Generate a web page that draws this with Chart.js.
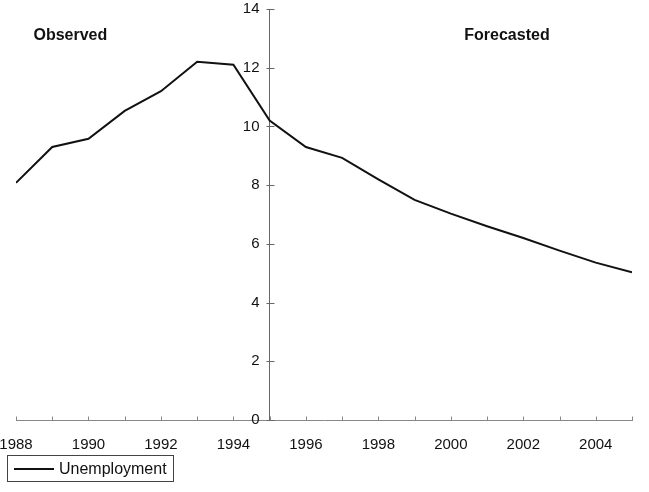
<!DOCTYPE html>
<html>
<head>
<meta charset="utf-8">
<script src="https://cdn.jsdelivr.net/npm/chart.js@4.4.1/dist/chart.umd.min.js"></script>
<style>
  html, body { margin: 0; padding: 0; background: #fff; }
  #wrap { position: relative; width: 649px; height: 492px; }
  #legend {
    position: absolute; left: 7px; top: 455px; width: 165px; height: 25px;
    border: 1px solid #444; font-family: "Liberation Sans", Arial, sans-serif;
    font-size: 16px; color: #111; display: flex; align-items: center;
  }
  #legend .swatch { display: inline-block; width: 40px; height: 0; border-top: 2px solid #111; margin-left: 6px; margin-right: 5px; }
</style>
</head>
<body>
<div id="wrap">
  <canvas id="grafica" width="649" height="492"></canvas>
  <div id="legend"><span class="swatch"></span><span>Unemployment</span></div>
</div>
<script>
// datos
const years = [1988, 1989, 1990, 1991, 1992, 1993, 1994, 1995, 1996, 1997,
               1998, 1999, 2000, 2001, 2002, 2003, 2004, 2005];
const unemployment = [8.08, 9.3, 9.58, 10.53, 11.2, 12.2, 12.1, 10.2, 9.3, 8.93,
                      8.2, 7.5, 7.03, 6.6, 6.2, 5.77, 5.36, 5.03];
const yTicks = [0, 2, 4, 6, 8, 10, 12, 14];
const splitYear = 1995; // el eje Y se cruza aqui

// textos del grafico (posicion en unidades de datos)
const noteTexts = ["Observed", "Forecasted"];
const noteX = [1989.5, 2001.55];
const noteY = [13.1, 13.1];

const fontFam = '"Liberation Sans", Arial, sans-serif';

// etiquetas y marcas del eje Y (cruzan el eje) y marcas del eje X hacia arriba
const axisPlugin = {
    id: 'axisMarks',
    afterDraw(chart) {
        const c = chart.ctx;
        const xs = chart.scales.x, ys = chart.scales.y;
        const ax = Math.round(xs.getPixelForValue(splitYear)) + 0.5;
        c.save();
        c.lineWidth = 1;
        c.strokeStyle = '#666';
        c.beginPath();
        yTicks.forEach(function (t) {
            const py = Math.round(ys.getPixelForValue(t)) + 0.5;
            c.moveTo(ax - 4, py);
            c.lineTo(ax + 4, py);
        });
        c.stroke();
        c.strokeStyle = '#888';
        c.beginPath();
        const by = Math.round(ys.getPixelForValue(0)) + 0.5;
        years.forEach(function (yr) {
            const px = Math.round(xs.getPixelForValue(yr)) + 0.5;
            c.moveTo(px, by);
            c.lineTo(px, by - 4);
        });
        c.stroke();
        c.font = '15px ' + fontFam;
        c.fillStyle = '#111';
        c.textAlign = 'right';
        c.textBaseline = 'middle';
        yTicks.forEach(function (t) {
            c.fillText(String(t), ax - 11, ys.getPixelForValue(t));
        });
        c.font = 'bold 16px ' + fontFam;
        c.textAlign = 'center';
        for (let i = 0; i < noteTexts.length; i++) {
            c.fillText(noteTexts[i], xs.getPixelForValue(noteX[i]), ys.getPixelForValue(noteY[i]));
        }
        c.restore();
    }
};

const ctx = document.getElementById('grafica').getContext('2d');
new Chart(ctx, {
    type: 'line',
    data: {
        datasets: [{
            label: 'Unemployment',
            data: years.map((yr, i) => ({ x: yr, y: unemployment[i] })),
            borderColor: '#111',
            borderWidth: 2,
            pointRadius: 0,
            tension: 0,
            fill: false
        }]
    },
    options: {
        responsive: false,
        animation: false,
        layout: { padding: { top: 9, right: 17, left: 0, bottom: 32 } },
        plugins: {
            legend: { display: false },
            tooltip: { enabled: false }
        },
        scales: {
            x: {
                type: 'linear',
                min: years[0],
                max: years[years.length - 1],
                afterFit: function (scale) {
                    scale.height = 40;
                    scale.paddingLeft = 16;
                    scale.paddingRight = 0;
                },
                border: { color: '#888', width: 1 },
                grid: { drawOnChartArea: false, drawTicks: false },
                ticks: {
                    stepSize: 1,
                    autoSkip: false,
                    maxRotation: 0,
                    padding: 16,
                    color: '#111',
                    font: { family: fontFam, size: 15 },
                    callback: function (v) { return v % 2 === 0 ? String(v) : ''; }
                }
            },
            y: {
                type: 'linear',
                position: { x: splitYear },
                min: yTicks[0],
                max: yTicks[yTicks.length - 1],
                border: { color: '#666', width: 1 },
                grid: { drawOnChartArea: false, drawTicks: false },
                ticks: { display: false, stepSize: 2 }
            }
        }
    },
    plugins: [axisPlugin]
});
</script>
</body>
</html>
